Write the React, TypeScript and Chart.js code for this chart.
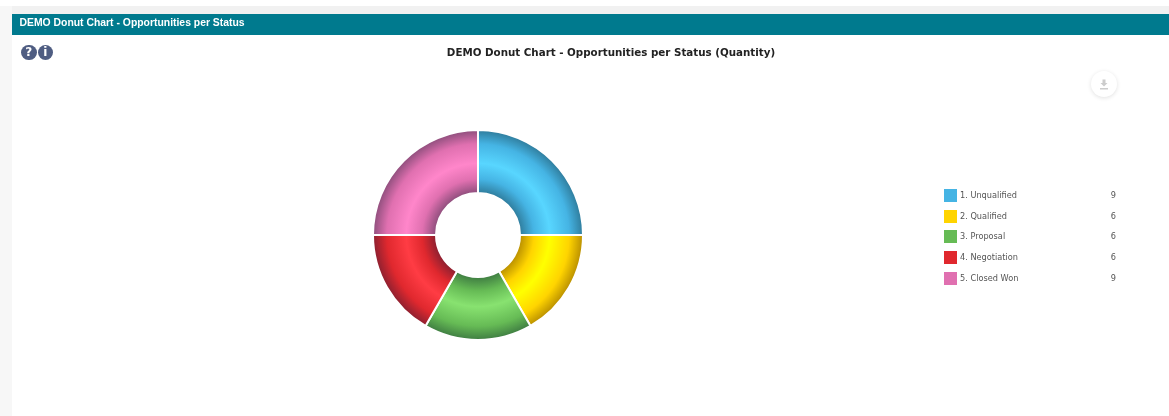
import React, { useEffect, useRef } from "react";
import { Chart, registerables } from "chart.js";

Chart.register(...registerables);

const categories = ["1. Unqualified", "2. Qualified", "3. Proposal", "4. Negotiation", "5. Closed Won"];
const quantities = [9, 6, 6, 6, 9];
const legendColors = ["#45b4e4", "#ffd400", "#66bb55", "#e0282e", "#e070b0"];
const brightColors = ["#58d6ff", "#ffff00", "#88e270", "#ff3c44", "#ff86ca"];
const darkColors = ["#2f7c9c", "#b98f00", "#3f7d42", "#8c2030", "#8e4e7c"];
const legendRowCentres = [195, 216, 236, 257, 278];

const headerTitle = "DEMO Donut Chart - Opportunities per Status";
const chartTitle = "DEMO Donut Chart - Opportunities per Status (Quantity)";

const OUTER = 105;
const INNER = 42;

export default function App() {
  const ref = useRef<HTMLCanvasElement | null>(null);

  useEffect(() => {
    document.body.style.margin = "0";
    const chart = new Chart(ref.current as HTMLCanvasElement, {
      type: "doughnut",
      data: {
        labels: categories,
        datasets: [
          {
            data: quantities,
            borderColor: "#ffffff",
            borderWidth: 2,
            backgroundColor: (c: any) => {
              const area = c.chart.chartArea;
              if (!area) return legendColors[c.dataIndex];
              const x = (area.left + area.right) / 2;
              const y = (area.top + area.bottom) / 2;
              const g = c.chart.ctx.createRadialGradient(x, y, INNER, x, y, OUTER);
              g.addColorStop(0, darkColors[c.dataIndex]);
              g.addColorStop(0.22, legendColors[c.dataIndex]);
              g.addColorStop(0.47, brightColors[c.dataIndex]);
              g.addColorStop(0.78, legendColors[c.dataIndex]);
              g.addColorStop(1, darkColors[c.dataIndex]);
              return g;
            },
          },
        ],
      },
      options: {
        animation: false,
        responsive: false,
        radius: OUTER,
        cutout: "40%",
        layout: { padding: 0 },
        plugins: { legend: { display: false }, title: { display: false }, tooltip: { enabled: false } },
      } as any,
    });
    return () => chart.destroy();
  }, []);

  return (
    <div style={{ position: "relative", width: 1169, height: 416, background: "#ffffff", overflow: "hidden" }}>
      <div style={{ position: "absolute", left: 0, top: 0, width: 1169, height: 14, background: "#f1f1f1" }} />
      <div style={{ position: "absolute", left: 0, top: 0, width: 12, height: 416, background: "#f7f7f7" }} />
      <div style={{ position: "absolute", left: 0, top: 0, width: 1169, height: 6, background: "#ffffff" }} />
      <div
        style={{
          position: "absolute", left: 12, top: 14, width: 1157, height: 21, background: "#007a8e", color: "#fff",
          font: "bold 10.4px 'Liberation Sans', sans-serif", lineHeight: "17px", paddingLeft: 7.5, boxSizing: "border-box",
          filter: "blur(0.35px)",
        }}
      >
        {headerTitle}
      </div>

      {["?", "i"].map((s, i) => (
        <div
          key={s}
          style={{
            position: "absolute", left: 21 + i * 16.5, top: 44.5, width: 15.5, height: 15.5, borderRadius: "50%",
            background: "#4f5d82", color: "#fff", textAlign: "center", filter: "blur(0.3px)",
            font: "bold 12px 'DejaVu Sans', sans-serif", lineHeight: "15.5px",
          }}
        >
          {s}
        </div>
      ))}

      <div
        style={{
          position: "absolute", left: 311, width: 600, top: 45, textAlign: "center", color: "#222",
          font: "bold 10.3px 'DejaVu Sans', sans-serif", lineHeight: "14px", filter: "blur(0.25px)", whiteSpace: "nowrap",
        }}
      >
        {chartTitle}
      </div>

      <div
        style={{
          position: "absolute", left: 1091, top: 71, width: 26, height: 26, borderRadius: "50%", background: "#fff",
          boxShadow: "0 1px 4px rgba(0,0,0,0.12)",
        }}
      >
        <svg width="26" height="26" viewBox="0 0 26 26" style={{ display: "block" }}>
          <path d="M11.5 8.5h3v3.5h2l-3.5 3.5-3.5-3.5h2z" fill="#cccccc" />
          <rect x="9" y="17" width="8" height="1.5" fill="#cccccc" />
        </svg>
      </div>

      <canvas ref={ref} width={250} height={250} style={{ position: "absolute", left: 353, top: 110, width: 250, height: 250 }} />

      {categories.map((name, i) => (
        <React.Fragment key={name}>
          <div
            style={{
              position: "absolute", left: 944, top: legendRowCentres[i] - 6.5, width: 12.5, height: 13,
              background: legendColors[i], filter: "blur(0.3px)",
            }}
          />
          <div
            style={{
              position: "absolute", left: 960, top: legendRowCentres[i] - 6, color: "#555", whiteSpace: "nowrap",
              font: "8.2px 'DejaVu Sans', sans-serif", lineHeight: "12px", filter: "blur(0.3px)",
            }}
          >
            {name}
          </div>
          <div
            style={{
              position: "absolute", left: 1095, width: 21, top: legendRowCentres[i] - 6, color: "#555", textAlign: "right",
              font: "8.2px 'DejaVu Sans', sans-serif", lineHeight: "12px", filter: "blur(0.3px)",
            }}
          >
            {quantities[i]}
          </div>
        </React.Fragment>
      ))}
    </div>
  );
}
